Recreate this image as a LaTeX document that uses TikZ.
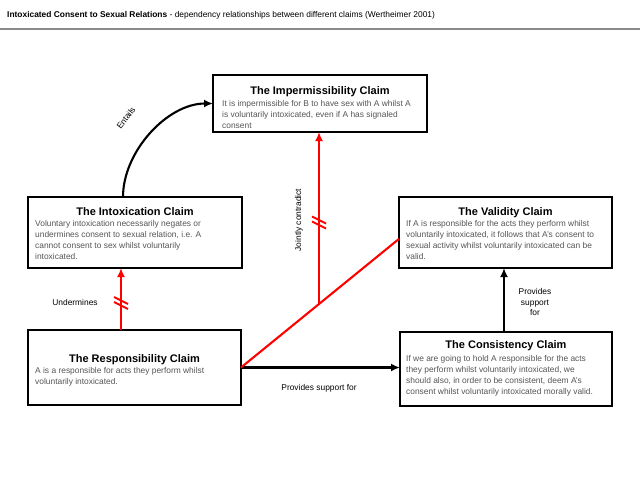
\documentclass[tikz,border=0pt]{standalone}
\usepackage{fontspec}
\setmainfont{Liberation Sans}
\usetikzlibrary{arrows.meta,shadows,calc}
\definecolor{bodygray}{HTML}{555555}
\definecolor{rulegray}{HTML}{8A8A8A}
\tikzset{
  claimbox/.style={draw=black, line width=1.6pt, fill=white, inner sep=0pt, outer sep=0pt,
    drop shadow={opacity=0.35, shadow xshift=1.3pt, shadow yshift=-1.3pt}},
  ttl/.style={font=\fontsize{11}{13}\selectfont\bfseries, inner sep=0pt, anchor=base},
  bodytxt/.style={font=\fontsize{8.4}{11}\selectfont, text=bodygray, align=left, inner sep=0pt, anchor=north west},
  lbl/.style={font=\fontsize{8.4}{10.5}\selectfont, text=black, inner sep=0pt},
  blackarr/.style={draw=black, line width=2.1pt, -{Latex[length=9pt,width=8pt]}},
  redarr/.style={draw=red, line width=2.1pt, -{Latex[length=9pt,width=8pt]}},
  redline/.style={draw=red, line width=2.1pt},
  hashmark/.style={draw=red, line width=1.8pt},
}
\begin{document}
\begin{tikzpicture}[x=1pt,y=-1pt]
\useasboundingbox (0,0) rectangle (640,480);
\fill[white] (0,0) rectangle (640,480);
% header
\node[anchor=base west, inner sep=0pt, font=\fontsize{8.4}{10}\selectfont] (hdr) at (7,17.5)
  {\textbf{Intoxicated Consent to Sexual Relations} - dependency relationships between different claims (Wertheimer 2001)};
\coordinate (rl) at (0,29);
\coordinate (rr) at (640,29);
\draw[rulegray, line width=1.6pt] (rl) -- (rr);

% boxes
\node[claimbox, minimum width=214pt, minimum height=57pt] (imp) at (320,103.5) {};
\node[claimbox, minimum width=214pt, minimum height=71pt] (intox) at (135,232.5) {};
\node[claimbox, minimum width=213pt, minimum height=71pt] (val) at (505.5,232.5) {};
\node[claimbox, minimum width=213pt, minimum height=75pt] (resp) at (134.5,367.5) {};
\node[claimbox, minimum width=212pt, minimum height=74pt] (cons) at (506,369) {};

% texts
\node[ttl] (impT) at (320,94) {The Impermissibility Claim};
\node[bodytxt] (impB) at (222,99.8) {It is impermissible for B to have sex with A whilst A\\is voluntarily intoxicated, even if A has signaled\\consent};

\node[ttl] (intoxT) at (135,215) {The Intoxication Claim};
\node[bodytxt] (intoxB) at (35,219.8) {Voluntary intoxication necessarily negates or\\undermines consent to sexual relation, i.e. A\\cannot consent to sex whilst voluntarily\\intoxicated.};

\node[ttl] (valT) at (505.5,215) {The Validity Claim};
\node[bodytxt] (valB) at (406,219.8) {If A is responsible for the acts they perform whilst\\voluntarily intoxicated, it follows that A's consent to\\sexual activity whilst voluntarily intoxicated can be\\valid.};

\node[ttl] (respT) at (134.5,362) {The Responsibility Claim};
\node[bodytxt] (respB) at (35,366.8) {A is a responsible for acts they perform whilst\\voluntarily intoxicated.};

\node[ttl] (consT) at (506,348) {The Consistency Claim};
\node[bodytxt] (consB) at (406,354.8) {If we are going to hold A responsible for the acts\\they perform whilst voluntarily intoxicated, we\\should also, in order to be consistent, deem A's\\consent whilst voluntarily intoxicated morally valid.};

% Entails
\coordinate (entS) at ($(intox.north)+(-12,0)$);
\draw[blackarr] (entS) to[out=90,in=180, looseness=0.9] (imp.west);
\node[lbl, rotate=53] (entL) at (126,118) {Entails};

% Undermines
\coordinate (undS) at ($(resp.north)+(-13.5,0)$);
\draw[redarr] (undS) -- (undS |- intox.south);
\coordinate (u1) at (121,300.5);
\coordinate (u2) at (121,305.5);
\draw[hashmark] ($(u1)+(-7,-3.5)$) -- ($(u1)+(7,3.5)$);
\draw[hashmark] ($(u2)+(-7,-3.5)$) -- ($(u2)+(7,3.5)$);
\node[lbl] (undL) at (75,302) {Undermines};

% Provides support (right)
\coordinate (psS) at ($(cons.north)+(-2,0)$);
\draw[blackarr] (psS) -- (psS |- val.south);
\node[lbl, align=center] (psR) at (535,302) {Provides\\support\\for};

% Provides support (bottom)
\draw[blackarr] (resp.east) -- (resp.east -| cons.west);
\node[lbl] (psB) at (319,388) {Provides support for};

% Jointly contradict
\coordinate (valE) at ($(val.north west)!0.59!(val.south west)$);
\draw[redline] (resp.east) -- (valE);
\coordinate (jc) at ($(resp.east)!0.4937!(valE)$);
\draw[redarr] (jc) -- (jc |- imp.south);
\coordinate (j1) at (319,220);
\coordinate (j2) at (319,225);
\draw[hashmark] ($(j1)+(-7,-3.5)$) -- ($(j1)+(7,3.5)$);
\draw[hashmark] ($(j2)+(-7,-3.5)$) -- ($(j2)+(7,3.5)$);
\node[lbl, rotate=90] (jcL) at (299,220) {Jointly contradict};
\end{tikzpicture}
\end{document}
